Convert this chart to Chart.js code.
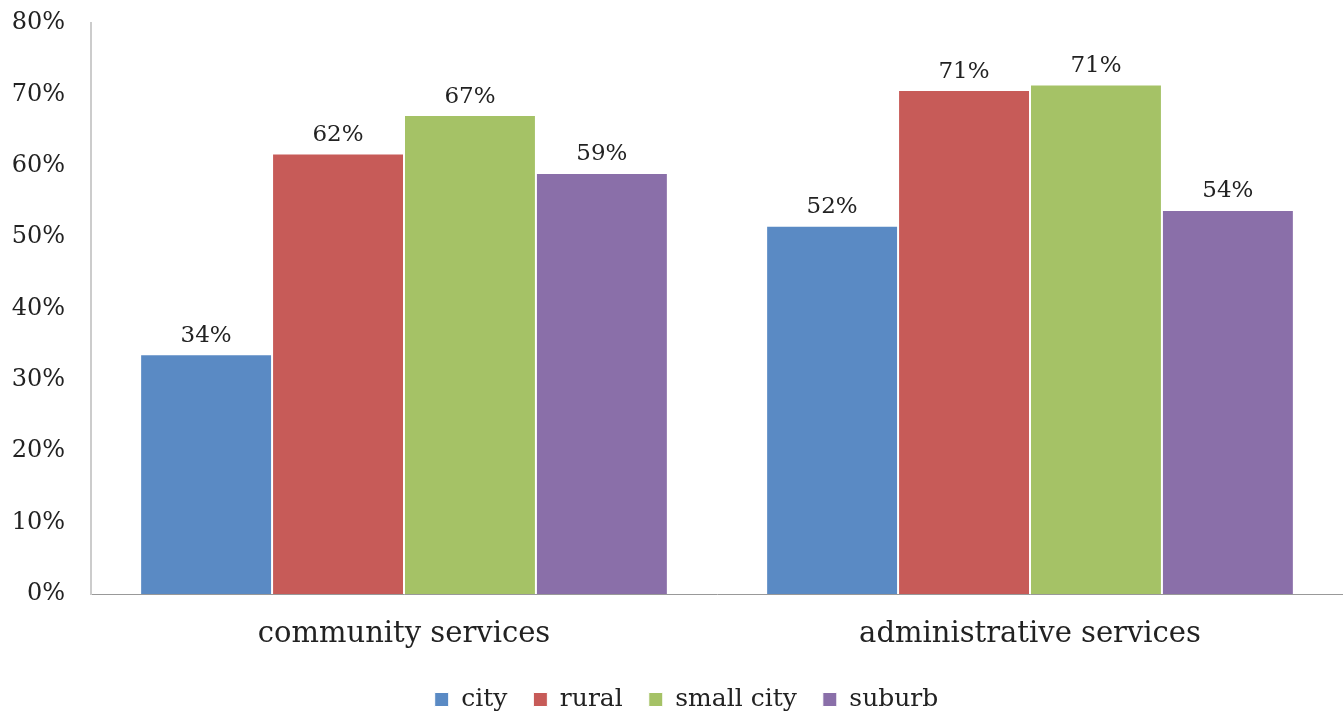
<!DOCTYPE html>
<html>
<head>
<meta charset="utf-8">
<script src="https://cdn.jsdelivr.net/npm/chart.js@4.4.1/dist/chart.umd.min.js"></script>
<style>
  html, body { margin: 0; padding: 0; background: #ffffff; }
  #wrap { width: 1343px; height: 715px; }
</style>
</head>
<body>
<div id="wrap"><canvas id="c" width="1343" height="715"></canvas></div>
<script>
const categories = ["community services", "administrative services"];
const seriesNames = ["city", "rural", "small city", "suburb"];
const cityValues = [33.6, 51.6];
const ruralValues = [61.7, 70.6];
const smallCityValues = [67.1, 71.4];
const suburbValues = [59.0, 53.8];
const seriesColors = ["#5A8AC4", "#C75B58", "#A5C266", "#8A6FA9"];
const yTicks = [0, 10, 20, 30, 40, 50, 60, 70, 80];

const FONT = "'DejaVu Serif', 'Liberation Serif', serif";

const valueLabels = {
  id: 'valueLabels',
  afterDatasetsDraw(chart) {
    const ctx = chart.ctx;
    ctx.save();
    ctx.font = "23px " + FONT;
    ctx.fillStyle = "#222";
    ctx.textAlign = "center";
    ctx.textBaseline = "bottom";
    chart.data.datasets.forEach((ds, i) => {
      const meta = chart.getDatasetMeta(i);
      meta.data.forEach((bar, j) => {
        ctx.fillText(Math.round(ds.data[j]) + "%", bar.x, bar.y - 7);
      });
    });
    ctx.restore();
  }
};

const legendShift = {
  id: 'legendShift',
  afterLayout(chart) {
    if (chart.legend) {
      chart.legend.left += 15;
      chart.legend.right += 15;
    }
  }
};

const allSeries = [cityValues, ruralValues, smallCityValues, suburbValues];

new Chart(document.getElementById('c'), {
  type: 'bar',
  data: {
    labels: categories,
    datasets: seriesNames.map((n, i) => ({
      label: n,
      data: allSeries[i],
      backgroundColor: seriesColors[i],
      borderColor: "#ffffff",
      borderWidth: 1,
      barPercentage: 1.0,
      categoryPercentage: 0.843
    }))
  },
  options: {
    responsive: false,
    animation: false,
    devicePixelRatio: 1,
    layout: { padding: { top: 23, right: 0, left: 0, bottom: -7 } },
    plugins: {
      legend: {
        position: 'bottom',
        labels: {
          boxWidth: 14,
          boxHeight: 14,
          padding: 26,
          color: "#222",
          font: { family: FONT, size: 25 }
        }
      },
      tooltip: { enabled: false }
    },
    scales: {
      x: {
        grid: { display: false, drawTicks: false },
        border: { color: "#999", width: 1 },
        ticks: { color: "#222", padding: 23, font: { family: FONT, size: 29 } },
        afterFit(scale) { scale.height = 67; }
      },
      y: {
        min: 0, max: 80,
        afterBuildTicks(axis) { axis.ticks = yTicks.map(v => ({ value: v })); },
        grid: { display: false, drawTicks: false },
        border: { color: "#ccc", width: 2 },
        ticks: {
          color: "#222",
          padding: 26,
          font: { family: FONT, size: 24 },
          callback: v => v + "%"
        },
        afterFit(scale) { scale.width = 91; scale.paddingTop = 0; }
      }
    }
  },
  plugins: [valueLabels, legendShift]
});
</script>
</body>
</html>
